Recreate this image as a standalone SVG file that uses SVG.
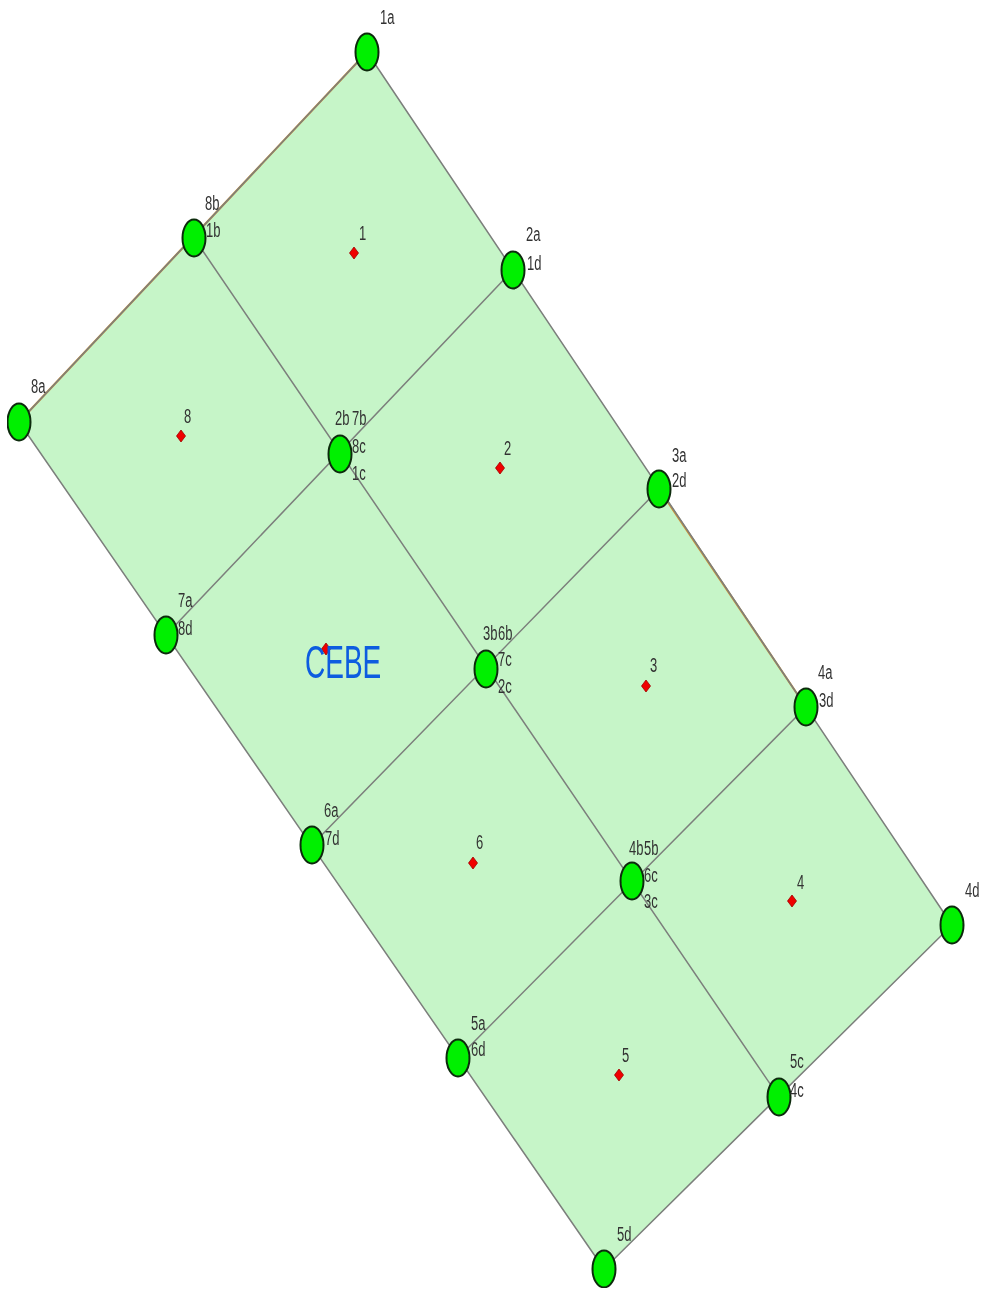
<svg xmlns="http://www.w3.org/2000/svg" width="984" height="1291" viewBox="0 0 984 1291">
<style>
.f{fill:#c6f5c8;stroke:none}
.e{stroke:#7c7f7c;stroke-width:1.5;fill:none}
.o{stroke:#c8903c;stroke-width:2.2;fill:none}
.n{fill:#00f000;stroke:#0c2a0c;stroke-width:2}
.c{fill:#f00000;stroke:#a00000;stroke-width:.8}
.l{font-family:"Liberation Sans",Arial,sans-serif;font-size:13px;fill:#333}
.t{font-family:"Liberation Sans",Arial,sans-serif;font-size:28px;fill:#0a5ce0}
</style>
<defs>
<ellipse id="node" class="n" rx="11.5" ry="18.5"/>
<path id="dia" class="c" d="M0-6 L4.5 0 L0 6 L-4.5 0Z"/>
<filter id="soft" x="0" y="0" width="1" height="1"><feGaussianBlur stdDeviation="0.45"/></filter>
</defs>
<g filter="url(#soft)">
<polygon id="mesh" class="f" points="367,52 952,925 604,1269 19,422"/>
<g id="connectors">
<path class="o" d="M367 52L19 422M659 489L806 707"/>
<path class="e" d="M367 52L952 925M194 238L779 1097M19 422L604 1269"/>
<path class="e" d="M367 52L19 422M513 270L166 635M659 489L312 845M806 707L458 1058M952 925L604 1269"/>
</g>
<g id="elements">
<g id="e1"><use href="#dia" x="354" y="253"/><text class="l" transform="translate(359,240) scale(1,1.6)">1</text></g>
<g id="e2"><use href="#dia" x="500" y="468"/><text class="l" transform="translate(504,455) scale(1,1.6)">2</text></g>
<g id="e3"><use href="#dia" x="646" y="686"/><text class="l" transform="translate(650,672) scale(1,1.6)">3</text></g>
<g id="e4"><use href="#dia" x="792" y="901"/><text class="l" transform="translate(797,889) scale(1,1.6)">4</text></g>
<g id="e5"><use href="#dia" x="619" y="1075"/><text class="l" transform="translate(622,1062) scale(1,1.6)">5</text></g>
<g id="e6"><use href="#dia" x="473" y="863"/><text class="l" transform="translate(476,849) scale(1,1.6)">6</text></g>
<g id="e7"><use href="#dia" x="326" y="649"/><text class="t" transform="translate(305,678) scale(1,1.65)">CEBE</text></g>
<g id="e8"><use href="#dia" x="181" y="436"/><text class="l" transform="translate(184,423) scale(1,1.6)">8</text></g>
</g>
<g id="n1a"><use href="#node" x="367" y="52"/><text class="l" transform="translate(380,24) scale(1,1.6)">1a</text></g>
<g id="n8b"><use href="#node" x="194" y="238"/><text class="l" transform="translate(205,210) scale(1,1.6)">8b</text><text class="l" transform="translate(206,237) scale(1,1.6)">1b</text></g>
<g id="n2a"><use href="#node" x="513" y="270"/><text class="l" transform="translate(526,241) scale(1,1.6)">2a</text><text class="l" transform="translate(527,270) scale(1,1.6)">1d</text></g>
<g id="n8a"><use href="#node" x="19" y="422"/><text class="l" transform="translate(31,393) scale(1,1.6)">8a</text></g>
<g id="n2b"><use href="#node" x="340" y="454"/><text class="l" transform="translate(335,425) scale(1,1.6)">2b</text><text class="l" transform="translate(352,425) scale(1,1.6)">7b</text><text class="l" transform="translate(352,453) scale(1,1.6)">8c</text><text class="l" transform="translate(352,480) scale(1,1.6)">1c</text></g>
<g id="n3a"><use href="#node" x="659" y="489"/><text class="l" transform="translate(672,462) scale(1,1.6)">3a</text><text class="l" transform="translate(672,487) scale(1,1.6)">2d</text></g>
<g id="n7a"><use href="#node" x="166" y="635"/><text class="l" transform="translate(178,607) scale(1,1.6)">7a</text><text class="l" transform="translate(178,635) scale(1,1.6)">8d</text></g>
<g id="n3b"><use href="#node" x="486" y="669"/><text class="l" transform="translate(483,640) scale(1,1.6)">3b</text><text class="l" transform="translate(498,640) scale(1,1.6)">6b</text><text class="l" transform="translate(498,666) scale(1,1.6)">7c</text><text class="l" transform="translate(498,693) scale(1,1.6)">2c</text></g>
<g id="n4a"><use href="#node" x="806" y="707"/><text class="l" transform="translate(818,679) scale(1,1.6)">4a</text><text class="l" transform="translate(819,707) scale(1,1.6)">3d</text></g>
<g id="n6a"><use href="#node" x="312" y="845"/><text class="l" transform="translate(324,817) scale(1,1.6)">6a</text><text class="l" transform="translate(325,845) scale(1,1.6)">7d</text></g>
<g id="n4b"><use href="#node" x="632" y="881"/><text class="l" transform="translate(629,855) scale(1,1.6)">4b</text><text class="l" transform="translate(644,855) scale(1,1.6)">5b</text><text class="l" transform="translate(644,882) scale(1,1.6)">6c</text><text class="l" transform="translate(644,908) scale(1,1.6)">3c</text></g>
<g id="n4d"><use href="#node" x="952" y="925"/><text class="l" transform="translate(965,897) scale(1,1.6)">4d</text></g>
<g id="n5a"><use href="#node" x="458" y="1058"/><text class="l" transform="translate(471,1030) scale(1,1.6)">5a</text><text class="l" transform="translate(471,1056) scale(1,1.6)">6d</text></g>
<g id="n5c"><use href="#node" x="779" y="1097"/><text class="l" transform="translate(790,1068) scale(1,1.6)">5c</text><text class="l" transform="translate(790,1097) scale(1,1.6)">4c</text></g>
<g id="n5d"><use href="#node" x="604" y="1269"/><text class="l" transform="translate(617,1241) scale(1,1.6)">5d</text></g>
</g>
</svg>
